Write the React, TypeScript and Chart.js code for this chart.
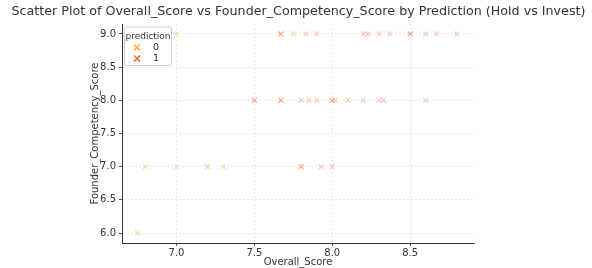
import React, { useEffect, useRef } from "react";
import { Chart, registerables } from "chart.js";

Chart.register(...registerables);

const TITLE = "Scatter Plot of Overall_Score vs Founder_Competency_Score by Prediction (Hold vs Invest)";
const X_LABEL = "Overall_Score";
const Y_LABEL = "Founder_Competency_Score";
const LEGEND_TITLE = "prediction";
const SERIES_NAMES = ["0", "1"];

const class0X = [6.75, 6.8, 7.0, 7.3, 7.0, 7.75];
const class0Y = [6.0, 7.0, 7.0, 7.0, 9.0, 9.0];

const class1X = [
  7.2, 7.8, 7.8, 7.93, 8.0,
  7.5, 7.5, 7.67, 7.67, 7.8, 7.85, 7.9, 8.0, 8.0, 8.02, 8.1, 8.2, 8.3, 8.33, 8.6,
  7.67, 7.67, 7.83, 7.9, 8.2, 8.23, 8.3, 8.37, 8.5, 8.5, 8.6, 8.67, 8.8,
];
const class1Y = [
  7.0, 7.0, 7.0, 7.0, 7.0,
  8.0, 8.0, 8.0, 8.0, 8.0, 8.0, 8.0, 8.0, 8.0, 8.0, 8.0, 8.0, 8.0, 8.0, 8.0,
  9.0, 9.0, 9.0, 9.0, 9.0, 9.0, 9.0, 9.0, 9.0, 9.0, 9.0, 9.0, 9.0,
];

const xTicks = [7.0, 7.5, 8.0, 8.5];
const yTicks = [6.0, 6.5, 7.0, 7.5, 8.0, 8.5, 9.0];

const COLORS = ["rgb(255,176,32)", "rgb(242,102,54)"];
const POINT_COLORS = ["rgba(255,176,32,0.4)", "rgba(242,102,54,0.33)"];
const FONT = "'DejaVu Sans', sans-serif";

const titlePlugin = {
  id: "centerTitle",
  afterDraw(chart: any) {
    const { ctx } = chart;
    ctx.save();
    ctx.fillStyle = "#333";
    ctx.font = "12.7px " + FONT;
    ctx.textAlign = "center";
    ctx.textBaseline = "middle";
    ctx.fillText(TITLE, 298.5, 12);
    ctx.restore();
  },
};

const legendPlugin = {
  id: "boxLegend",
  afterDraw(chart: any) {
    const { ctx, chartArea } = chart;
    const x = chartArea.left + 2;
    const y = chartArea.top + 2.5;
    const w = 47;
    const h = 38.5;
    ctx.save();
    ctx.fillStyle = "rgba(255,255,255,0.8)";
    ctx.strokeStyle = "#d0d0d0";
    ctx.lineWidth = 1;
    ctx.beginPath();
    (ctx as any).roundRect(x + 0.5, y + 0.5, w, h, 2);
    ctx.fill();
    ctx.stroke();
    ctx.font = "9px " + FONT;
    ctx.fillStyle = "#333";
    ctx.textBaseline = "middle";
    ctx.textAlign = "center";
    ctx.fillText(LEGEND_TITLE, x + w / 2 + 0.5, y + 10.5);
    ctx.font = "9.5px " + FONT;
    SERIES_NAMES.forEach((name, i) => {
      const cy = y + 21 + i * 11;
      const cx = x + 13;
      ctx.strokeStyle = COLORS[i];
      ctx.lineWidth = 1.5;
      ctx.beginPath();
      ctx.moveTo(cx - 3, cy - 3);
      ctx.lineTo(cx + 3, cy + 3);
      ctx.moveTo(cx + 3, cy - 3);
      ctx.lineTo(cx - 3, cy + 3);
      ctx.stroke();
      ctx.fillStyle = "#333";
      ctx.textAlign = "left";
      ctx.fillText(name, x + 29, cy);
    });
    ctx.restore();
  },
};

export default function App() {
  const ref = useRef<HTMLCanvasElement>(null);
  useEffect(() => {
    if (!ref.current) return;
    const mk = (xs: number[], ys: number[]) => xs.map((v, i) => ({ x: v, y: ys[i] }));
    const chart = new Chart(ref.current, {
      type: "scatter",
      data: {
        datasets: [
          {
            label: SERIES_NAMES[0],
            data: mk(class0X, class0Y),
            pointStyle: "crossRot",
            radius: 3.5,
            borderWidth: 1.2,
            borderColor: POINT_COLORS[0],
            backgroundColor: POINT_COLORS[0],
          },
          {
            label: SERIES_NAMES[1],
            data: mk(class1X, class1Y),
            pointStyle: "crossRot",
            radius: 3.5,
            borderWidth: 1.2,
            borderColor: POINT_COLORS[1],
            backgroundColor: POINT_COLORS[1],
          },
        ],
      },
      options: {
        responsive: false,
        animation: false,
        layout: { padding: { left: 0, right: 118, top: 24, bottom: 0 } },
        plugins: {
          legend: { display: false },
          tooltip: { enabled: false },
          title: { display: false },
        },
        scales: {
          x: {
            type: "linear",
            min: 6.65,
            max: 8.91,
            afterBuildTicks: (s: any) => {
              s.ticks = xTicks.map((v) => ({ value: v }));
            },
            afterFit: (s: any) => {
              s.height = 25;
            },
            ticks: {
              color: "#333",
              font: { family: FONT, size: 10 },
              padding: 1,
              maxRotation: 0,
              callback: (v: any) => Number(v).toFixed(1),
            },
            grid: {
              color: "#e2e2e2",
              tickColor: "#333",
              tickLength: 3,
              tickBorderDash: [],
              lineWidth: 0.8,
            },
            border: { display: true, color: "#333", width: 1, dash: [2, 2] },
            title: {
              display: true,
              text: X_LABEL,
              color: "#333",
              font: { family: FONT, size: 10 },
              padding: { top: 0, bottom: 0 },
            },
          },
          y: {
            type: "linear",
            min: 5.85,
            max: 9.15,
            afterBuildTicks: (s: any) => {
              s.ticks = yTicks.map((v) => ({ value: v }));
            },
            afterFit: (s: any) => {
              s.width = 122;
            },
            ticks: {
              color: "#333",
              font: { family: FONT, size: 10 },
              padding: 3,
              callback: (v: any) => Number(v).toFixed(1),
            },
            grid: {
              color: "#e2e2e2",
              tickColor: "#333",
              tickLength: 3,
              tickBorderDash: [],
              lineWidth: 0.8,
            },
            border: { display: true, color: "#333", width: 1, dash: [2, 2] },
            title: {
              display: true,
              text: Y_LABEL,
              color: "#333",
              font: { family: FONT, size: 10 },
              padding: { top: 89, bottom: 0 },
            },
          },
        },
      },
      plugins: [legendPlugin, titlePlugin],
    });
    return () => chart.destroy();
  }, []);
  return (
    <div style={{ position: "fixed", left: 0, top: 0, width: 592, height: 268, background: "#fff" }}>
      <canvas ref={ref} width={592} height={268} style={{ width: 592, height: 268 }} />
    </div>
  );
}
